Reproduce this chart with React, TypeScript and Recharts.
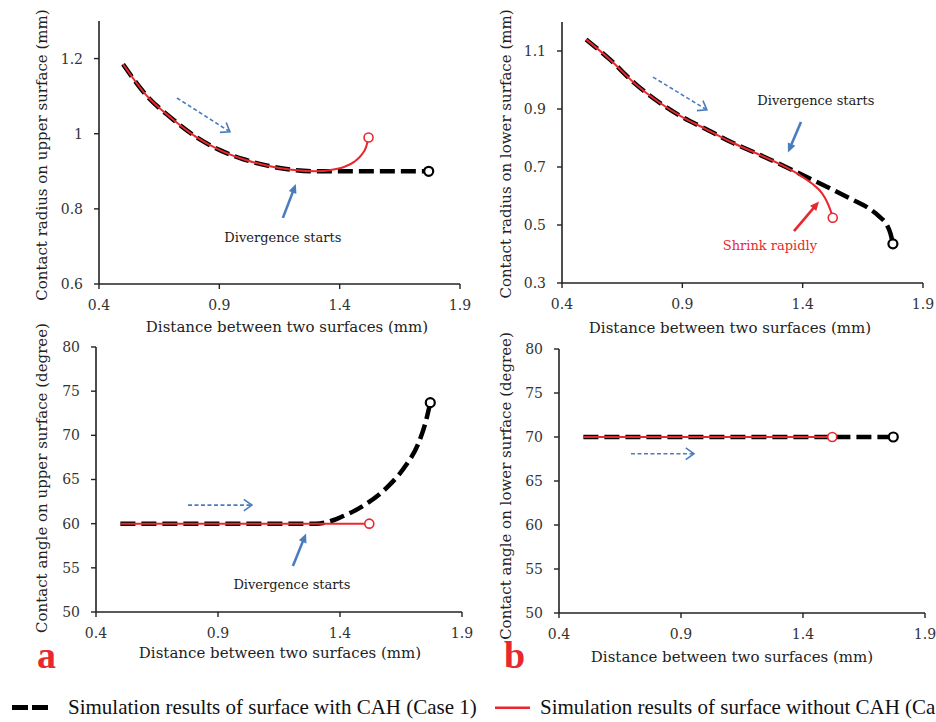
import React from "react";
import { LineChart, Line, XAxis, YAxis, ReferenceLine, ReferenceDot } from "recharts";

type Pt = { x: number; y: number };

const xTicks = [0.4, 0.9, 1.4, 1.9];

// contact radius, upper surface
const upperRadiusTicks = [0.6, 0.8, 1, 1.2];
const upperRadiusCase1: Pt[] = [
  { x: 0.5, y: 1.185 }, { x: 0.6, y: 1.1 }, { x: 0.7, y: 1.042 }, { x: 0.8, y: 0.993 },
  { x: 0.9, y: 0.957 }, { x: 1.0, y: 0.932 }, { x: 1.1, y: 0.915 }, { x: 1.2, y: 0.904 },
  { x: 1.3, y: 0.9 }, { x: 1.45, y: 0.9 }, { x: 1.6, y: 0.9 }, { x: 1.77, y: 0.9 },
];
const upperRadiusCase2: Pt[] = [
  { x: 0.5, y: 1.185 }, { x: 0.6, y: 1.1 }, { x: 0.7, y: 1.042 }, { x: 0.8, y: 0.993 },
  { x: 0.9, y: 0.957 }, { x: 1.0, y: 0.932 }, { x: 1.1, y: 0.915 }, { x: 1.2, y: 0.904 },
  { x: 1.3, y: 0.9 }, { x: 1.36, y: 0.903 }, { x: 1.42, y: 0.912 }, { x: 1.46, y: 0.925 },
  { x: 1.49, y: 0.943 }, { x: 1.51, y: 0.965 }, { x: 1.52, y: 0.99 },
];

// contact radius, lower surface
const lowerRadiusTicks = [0.3, 0.5, 0.7, 0.9, 1.1];
const lowerRadiusCase1: Pt[] = [
  { x: 0.5, y: 1.14 }, { x: 0.6, y: 1.07 }, { x: 0.7, y: 0.99 }, { x: 0.8, y: 0.925 },
  { x: 0.9, y: 0.872 }, { x: 1.0, y: 0.83 }, { x: 1.1, y: 0.787 }, { x: 1.2, y: 0.75 },
  { x: 1.3, y: 0.712 }, { x: 1.4, y: 0.672 }, { x: 1.5, y: 0.632 }, { x: 1.6, y: 0.59 },
  { x: 1.67, y: 0.56 }, { x: 1.72, y: 0.528 }, { x: 1.75, y: 0.5 }, { x: 1.765, y: 0.47 },
  { x: 1.775, y: 0.435 },
];
const lowerRadiusCase2: Pt[] = [
  { x: 0.5, y: 1.14 }, { x: 0.6, y: 1.07 }, { x: 0.7, y: 0.99 }, { x: 0.8, y: 0.925 },
  { x: 0.9, y: 0.872 }, { x: 1.0, y: 0.83 }, { x: 1.1, y: 0.787 }, { x: 1.2, y: 0.75 },
  { x: 1.3, y: 0.712 }, { x: 1.38, y: 0.676 }, { x: 1.44, y: 0.642 }, { x: 1.48, y: 0.61 },
  { x: 1.5, y: 0.582 }, { x: 1.515, y: 0.552 }, { x: 1.525, y: 0.525 },
];

// contact angle, upper surface
const angleTicks = [50, 55, 60, 65, 70, 75, 80];
const upperAngleCase1: Pt[] = [
  { x: 0.5, y: 60 }, { x: 0.9, y: 60 }, { x: 1.3, y: 60 }, { x: 1.35, y: 60.2 },
  { x: 1.4, y: 60.7 }, { x: 1.5, y: 62.1 }, { x: 1.6, y: 64.3 }, { x: 1.67, y: 66.6 },
  { x: 1.72, y: 69 }, { x: 1.75, y: 71.4 }, { x: 1.77, y: 73.7 },
];
const upperAngleCase2: Pt[] = [
  { x: 0.5, y: 60 }, { x: 1.0, y: 60 }, { x: 1.52, y: 60 },
];

// contact angle, lower surface
const lowerAngleCase1: Pt[] = [
  { x: 0.5, y: 70 }, { x: 1.1, y: 70 }, { x: 1.77, y: 70 },
];
const lowerAngleCase2: Pt[] = [
  { x: 0.5, y: 70 }, { x: 1.0, y: 70 }, { x: 1.52, y: 70 },
];

const BLUE = "#4a7dbd";
const RED = "#e8282e";
const SERIF = "'DejaVu Serif', serif";
const TIMES = "'Liberation Serif', 'Times New Roman', serif";

type Arrow = { from: [number, number]; to: [number, number]; kind: "dashed" | "solid"; color: string };
type Note = { x: number; y: number; text: string; color: string };

const panels = [
  {
    key: "ur",
    plot: { left: 99, top: 21, right: 460, bottom: 284 },
    yDomain: [0.6, 1.3],
    yTicks: upperRadiusTicks,
    case1: upperRadiusCase1,
    case2: upperRadiusCase2,
    yTitle: "Contact radius on upper surface (mm)",
    yTitlePos: [42, 155],
    xTitlePos: [287, 327],
    arrows: [
      { from: [0.724, 1.095], to: [0.944, 1.005], kind: "dashed", color: BLUE },
      { from: [1.164, 0.776], to: [1.218, 0.866], kind: "solid", color: BLUE },
    ] as Arrow[],
    notes: [{ x: 1.164, y: 0.725, text: "Divergence starts", color: "#1a1a1a" }] as Note[],
  },
  {
    key: "lr",
    plot: { left: 562, top: 22, right: 923, bottom: 283 },
    yDomain: [0.3, 1.2],
    yTicks: lowerRadiusTicks,
    case1: lowerRadiusCase1,
    case2: lowerRadiusCase2,
    yTitle: "Contact radius on lower surface (mm)",
    yTitlePos: [506, 154],
    xTitlePos: [730, 328],
    arrows: [
      { from: [0.778, 1.01], to: [1.002, 0.897], kind: "dashed", color: BLUE },
      { from: [1.393, 0.855], to: [1.339, 0.75], kind: "solid", color: BLUE },
      { from: [1.364, 0.479], to: [1.468, 0.581], kind: "solid", color: RED },
    ] as Arrow[],
    notes: [
      { x: 1.455, y: 0.931, text: "Divergence starts", color: "#1a1a1a" },
      { x: 1.264, y: 0.428, text: "Shrink rapidly", color: RED },
    ] as Note[],
  },
  {
    key: "ua",
    plot: { left: 96, top: 347, right: 462, bottom: 612 },
    yDomain: [50, 80],
    yTicks: angleTicks,
    case1: upperAngleCase1,
    case2: upperAngleCase2,
    yTitle: "Contact angle on upper surface (degree)",
    yTitlePos: [42, 478],
    xTitlePos: [280, 653],
    arrows: [
      { from: [0.777, 62.1], to: [1.039, 62.1], kind: "dashed", color: BLUE },
      { from: [1.207, 55.2], to: [1.261, 58.9], kind: "solid", color: BLUE },
    ] as Arrow[],
    notes: [{ x: 1.203, y: 53.1, text: "Divergence starts", color: "#1a1a1a" }] as Note[],
  },
  {
    key: "la",
    plot: { left: 559, top: 349, right: 925, bottom: 613 },
    yDomain: [50, 80],
    yTicks: angleTicks,
    case1: lowerAngleCase1,
    case2: lowerAngleCase2,
    yTitle: "Contact angle on lower surface (degree)",
    yTitlePos: [506, 486],
    xTitlePos: [732, 657],
    arrows: [
      { from: [0.695, 68.1], to: [0.953, 68.1], kind: "dashed", color: BLUE },
    ] as Arrow[],
    notes: [] as Note[],
  },
];

function arrowShape(kind: "dashed" | "solid", color: string) {
  return (props: any) => {
    const { x1, y1, x2, y2 } = props;
    const ang = Math.atan2(y2 - y1, x2 - x1);
    if (kind === "dashed") {
      const L = 10;
      const s = 0.62;
      const a = [x2 - L * Math.cos(ang - s), y2 - L * Math.sin(ang - s)];
      const b = [x2 - L * Math.cos(ang + s), y2 - L * Math.sin(ang + s)];
      return (
        <g>
          <line x1={x1} y1={y1} x2={x2} y2={y2} stroke={color} strokeWidth={1.6} strokeDasharray="4 2.5" />
          <polyline points={`${a[0]},${a[1]} ${x2},${y2} ${b[0]},${b[1]}`} fill="none" stroke={color} strokeWidth={1.6} />
        </g>
      );
    }
    const L = 10;
    const s = 0.42;
    const a = [x2 - L * Math.cos(ang - s), y2 - L * Math.sin(ang - s)];
    const b = [x2 - L * Math.cos(ang + s), y2 - L * Math.sin(ang + s)];
    const ex = x2 - 7 * Math.cos(ang);
    const ey = y2 - 7 * Math.sin(ang);
    return (
      <g>
        <line x1={x1} y1={y1} x2={ex} y2={ey} stroke={color} strokeWidth={2.6} />
        <polygon points={`${a[0]},${a[1]} ${x2},${y2} ${b[0]},${b[1]}`} fill={color} stroke="none" />
      </g>
    );
  };
}

function endDot(len: number, color: string, width: number) {
  return (props: any) =>
    props.index === len - 1 ? (
      <circle key="end" cx={props.cx} cy={props.cy} r={4.5} fill="#fff" stroke={color} strokeWidth={width} />
    ) : (
      <g key={`d${props.index}`} />
    );
}

const tickStyle = { fill: "#333", fontSize: 14, fontFamily: SERIF };

function Panel({ p }: { p: (typeof panels)[number] }) {
  const YW = 70;
  const MT = 10;
  const MR = 12;
  const XH = 44;
  const w = p.plot.right - p.plot.left + YW + MR;
  const h = p.plot.bottom - p.plot.top + MT + XH;
  return (
    <div style={{ position: "absolute", left: p.plot.left - YW, top: p.plot.top - MT }}>
      <LineChart width={w} height={h} margin={{ top: MT, right: MR, bottom: 0, left: 0 }}>
        <XAxis
          type="number"
          dataKey="x"
          domain={[0.4, 1.9]}
          ticks={xTicks}
          interval={0}
          allowDataOverflow
          height={XH}
          tickSize={5}
          tickMargin={11}
          tick={tickStyle}
          axisLine={{ stroke: "#222", strokeWidth: 1.6 }}
          tickLine={{ stroke: "#222", strokeWidth: 1.4 }}
        />
        <YAxis
          type="number"
          dataKey="y"
          domain={p.yDomain}
          ticks={p.yTicks}
          interval={0}
          allowDataOverflow
          width={YW}
          tickSize={5}
          tickMargin={11}
          tick={tickStyle}
          axisLine={{ stroke: "#222", strokeWidth: 1.6 }}
          tickLine={{ stroke: "#222", strokeWidth: 1.4 }}
        />
        <Line
          data={p.case1}
          dataKey="y"
          type="monotone"
          stroke="#000"
          strokeWidth={4.5}
          strokeDasharray="15 6"
          dot={endDot(p.case1.length, "#000", 2.2)}
          activeDot={false}
          isAnimationActive={false}
        />
        <Line
          data={p.case2}
          dataKey="y"
          type="monotone"
          stroke={RED}
          strokeWidth={2}
          dot={endDot(p.case2.length, RED, 1.6)}
          activeDot={false}
          isAnimationActive={false}
        />
        {p.arrows.map((a, i) => (
          <ReferenceLine
            key={`a${i}`}
            segment={[{ x: a.from[0], y: a.from[1] }, { x: a.to[0], y: a.to[1] }]}
            shape={arrowShape(a.kind, a.color)}
          />
        ))}
        {p.notes.map((n, i) => (
          <ReferenceDot
            key={`n${i}`}
            x={n.x}
            y={n.y}
            r={0}
            shape={(props: any) => (
              <text
                x={props.cx}
                y={props.cy}
                textAnchor="middle"
                dominantBaseline="central"
                fontFamily={SERIF}
                fontSize={13}
                fill={n.color}
              >
                {n.text}
              </text>
            )}
          />
        ))}
      </LineChart>
    </div>
  );
}

const titleStyle: React.CSSProperties = {
  position: "absolute",
  whiteSpace: "nowrap",
  fontFamily: SERIF,
  fontSize: 15,
  color: "#222",
  lineHeight: 1,
};

export default function App() {
  return (
    <div
      style={{
        position: "absolute",
        left: 0,
        top: 0,
        width: 936,
        height: 722,
        overflow: "hidden",
        background: "#fff",
      }}
    >
      {panels.map((p) => (
        <React.Fragment key={p.key}>
          <Panel p={p} />
          <div
            style={{
              ...titleStyle,
              left: p.yTitlePos[0],
              top: p.yTitlePos[1],
              transform: "translate(-50%, -50%) rotate(-90deg)",
            }}
          >
            {p.yTitle}
          </div>
          <div
            style={{
              ...titleStyle,
              left: p.xTitlePos[0],
              top: p.xTitlePos[1],
              transform: "translate(-50%, -50%)",
            }}
          >
            Distance between two surfaces (mm)
          </div>
        </React.Fragment>
      ))}

      <div style={{ position: "absolute", left: 37, top: 636, fontFamily: TIMES, fontWeight: 700, fontSize: 38, lineHeight: 1, color: RED }}>
        a
      </div>
      <div style={{ position: "absolute", left: 504, top: 636, fontFamily: TIMES, fontWeight: 700, fontSize: 38, lineHeight: 1, color: RED }}>
        b
      </div>

      <svg style={{ position: "absolute", left: 12, top: 702 }} width={38} height={12}>
        <rect x={0} y={3} width={16} height={5} fill="#000" />
        <rect x={20} y={3} width={16} height={5} fill="#000" />
      </svg>
      <div style={{ position: "absolute", left: 68, top: 697, fontFamily: TIMES, fontSize: 21, lineHeight: 1, color: "#111", whiteSpace: "nowrap" }}>
        Simulation results of surface with CAH (Case 1)
      </div>
      <svg style={{ position: "absolute", left: 495, top: 702 }} width={36} height={12}>
        <rect x={0} y={4.5} width={35} height={2.5} fill={RED} />
      </svg>
      <div style={{ position: "absolute", left: 540, top: 697, fontFamily: TIMES, fontSize: 21, lineHeight: 1, color: "#111", whiteSpace: "nowrap" }}>
        Simulation results of surface without CAH (Case 2)
      </div>
    </div>
  );
}
